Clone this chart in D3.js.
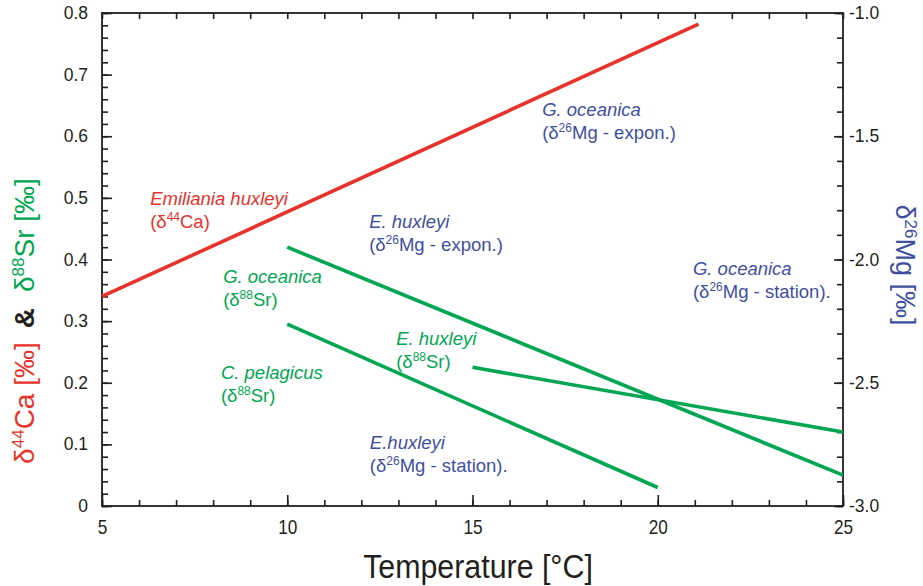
<!DOCTYPE html>
<html>
<head>
<meta charset="utf-8">
<script src="https://cdn.jsdelivr.net/npm/d3@7"></script>
<style>
  body { margin: 0; background: #fff; }
  text { font-family: "Liberation Sans", Arial, sans-serif; }
</style>
</head>
<body>
<div id="chart"></div>
<script>
// values
const tempTicks = [5, 10, 15, 20, 25];
const leftTicks = [0, 0.1, 0.2, 0.3, 0.4, 0.5, 0.6, 0.7, 0.8];
const rightTicks = [-1.0, -1.5, -2.0, -2.5, -3.0];

const caHuxleyi = [[5, 0.34], [21.1, 0.782]];
const srOceanica = [[10, 0.42], [25, 0.05]];
const srPelagicus = [[10, 0.295], [20, 0.03]];
const srHuxleyi = [[15, 0.225], [25, 0.12]];

const red = "#e8322c", green = "#00a651", blue = "#3f4f9f", ink = "#231f20";

// annotations: [title, sub-label parts, x (°C), y (left units), colour]
const notes = [
  ["Emiliania huxleyi", ["(δ", "44", "Ca)"], 6.30, 0.488, red],
  ["G. oceanica", ["(δ", "26", "Mg - expon.)"], 16.88, 0.633, blue],
  ["E. huxleyi", ["(δ", "26", "Mg - expon.)"], 12.21, 0.451, blue],
  ["G. oceanica", ["(δ", "88", "Sr)"], 8.27, 0.362, green],
  ["G. oceanica", ["(δ", "26", "Mg - station)."], 20.95, 0.375, blue],
  ["E. huxleyi", ["(δ", "88", "Sr)"], 12.94, 0.261, green],
  ["C. pelagicus", ["(δ", "88", "Sr)"], 8.21, 0.206, green],
  ["E.huxleyi", ["(δ", "26", "Mg - station)."], 12.23, 0.092, blue]
];

let width = 923, height = 586;
let margin = { top: 13, bottom: 80, left: 102, right: 80 };

let svg = d3.select("#chart")
            .append("svg")
            .attr("width", width)
            .attr("height", height);

let xscale = d3.scaleLinear()
               .domain([5, 25])
               .range([margin.left, width - margin.right]);

let yscale = d3.scaleLinear()
               .domain([0, 0.8])
               .range([height - margin.bottom, margin.top]);

let y2scale = d3.scaleLinear()
                .domain([-3.0, -1.0])
                .range([height - margin.bottom, margin.top]);

let x0 = margin.left, x1 = width - margin.right;
let y0 = height - margin.bottom, y1 = margin.top;

// minor ticks first (no labels)
function minor(g) {
  g.selectAll(".domain").remove();
  g.selectAll("text").remove();
  g.selectAll("line").attr("stroke", ink).attr("stroke-width", 1.6);
}

svg.append("g")
   .attr("transform", `translate(${x0},0)`)
   .call(d3.axisLeft(yscale).tickValues(d3.range(0, 0.81, 0.02)).tickSize(-6))
   .call(minor);

svg.append("g")
   .attr("transform", `translate(${x1},0)`)
   .call(d3.axisRight(y2scale).tickValues(d3.range(-3.0, -0.99, 0.1)).tickSize(-6))
   .call(minor);

svg.append("g")
   .attr("transform", `translate(0,${y0})`)
   .call(d3.axisBottom(xscale).tickValues(d3.range(5, 26, 1)).tickSize(-6))
   .call(minor);

svg.append("g")
   .attr("transform", `translate(0,${y1})`)
   .call(d3.axisTop(xscale).tickValues(d3.range(5, 26, 1)).tickSize(-6))
   .call(minor);

// major ticks with labels
let yaxis = svg.append("g")
               .attr("transform", `translate(${x0},0)`)
               .call(d3.axisLeft(yscale).tickValues(leftTicks)
                       .tickFormat(d => d === 0 ? "0" : d3.format(".1f")(d))
                       .tickSize(-10).tickPadding(14));

let y2axis = svg.append("g")
                .attr("transform", `translate(${x1},0)`)
                .call(d3.axisRight(y2scale).tickValues(rightTicks)
                        .tickFormat(d3.format(".1f"))
                        .tickSize(-9).tickPadding(6));

let xaxis = svg.append("g")
               .attr("transform", `translate(0,${y0})`)
               .call(d3.axisBottom(xscale).tickValues(tempTicks)
                       .tickFormat(d3.format("d"))
                       .tickSize(-11).tickPadding(13));

[yaxis, y2axis, xaxis].forEach(g => {
  g.selectAll(".domain").remove();
  g.selectAll("line").attr("stroke", ink).attr("stroke-width", 1.6);
  g.selectAll("text").attr("fill", ink).style("font-size", "17.5px")
   .style("font-family", "'Liberation Sans', Arial, sans-serif");
});
// narrow look for the temperature labels
xaxis.selectAll("text").style("font-size", "21px").attr("transform", "scale(0.82,1)");
y2axis.selectAll("text").attr("x", 6).text(d => d3.format(".1f")(d).replace("−", "-"));

// frame
svg.append("rect")
   .attr("x", x0).attr("y", y1)
   .attr("width", x1 - x0).attr("height", y0 - y1)
   .attr("fill", "none").attr("stroke", ink).attr("stroke-width", 1.8);

// lines
let line = d3.line().x(d => xscale(d[0])).y(d => yscale(d[1]));

[[caHuxleyi, red], [srOceanica, green], [srPelagicus, green], [srHuxleyi, green]]
  .forEach(([data, col]) => {
    svg.append("path")
       .datum(data)
       .attr("d", line)
       .attr("stroke", col)
       .attr("stroke-width", 3.6)
       .attr("fill", "none");
  });

// annotations
notes.forEach(([title, sub, tx, ty, col]) => {
  let px = xscale(tx), py = yscale(ty);
  svg.append("text")
     .attr("x", px).attr("y", py)
     .attr("fill", col)
     .style("font-size", "18.5px")
     .style("font-style", "italic")
     .text(title);
  let t = svg.append("text")
     .attr("x", px).attr("y", py + 23)
     .attr("fill", col)
     .style("font-size", "18.5px");
  t.append("tspan").text(sub[0]);
  t.append("tspan").attr("dy", -7).style("font-size", "12px").text(sub[1]);
  t.append("tspan").attr("dy", 7).text(sub[2]);
});

// axis titles
svg.append("text")
   .attr("transform", `translate(478,578) scale(0.92,1)`)
   .attr("text-anchor", "middle")
   .attr("fill", ink)
   .style("font-size", "33px")
   .text("Temperature [°C]");

let lt = svg.append("text")
   .attr("transform", `translate(34,321) rotate(-90)`)
   .attr("text-anchor", "middle")
   .style("font-size", "28px");
lt.append("tspan").attr("fill", red).text("δ");
lt.append("tspan").attr("fill", red).attr("dy", -10).style("font-size", "17px").text("44");
lt.append("tspan").attr("fill", red).attr("dy", 10).text("Ca [‰]");
lt.append("tspan").attr("fill", ink).attr("dx", 14).style("font-weight", "bold").text("&");
lt.append("tspan").attr("fill", green).attr("dx", 16).text("δ");
lt.append("tspan").attr("fill", green).attr("dy", -10).style("font-size", "17px").text("88");
lt.append("tspan").attr("fill", green).attr("dy", 10).text("Sr [‰]");

let rt = svg.append("text")
   .attr("transform", `translate(896,265) rotate(90)`)
   .attr("text-anchor", "middle")
   .attr("fill", blue)
   .style("font-size", "27px");
rt.append("tspan").text("δ");
rt.append("tspan").attr("dy", -9).style("font-size", "17px").text("26");
rt.append("tspan").attr("dy", 9).text("Mg [‰]");
</script>
</body>
</html>
